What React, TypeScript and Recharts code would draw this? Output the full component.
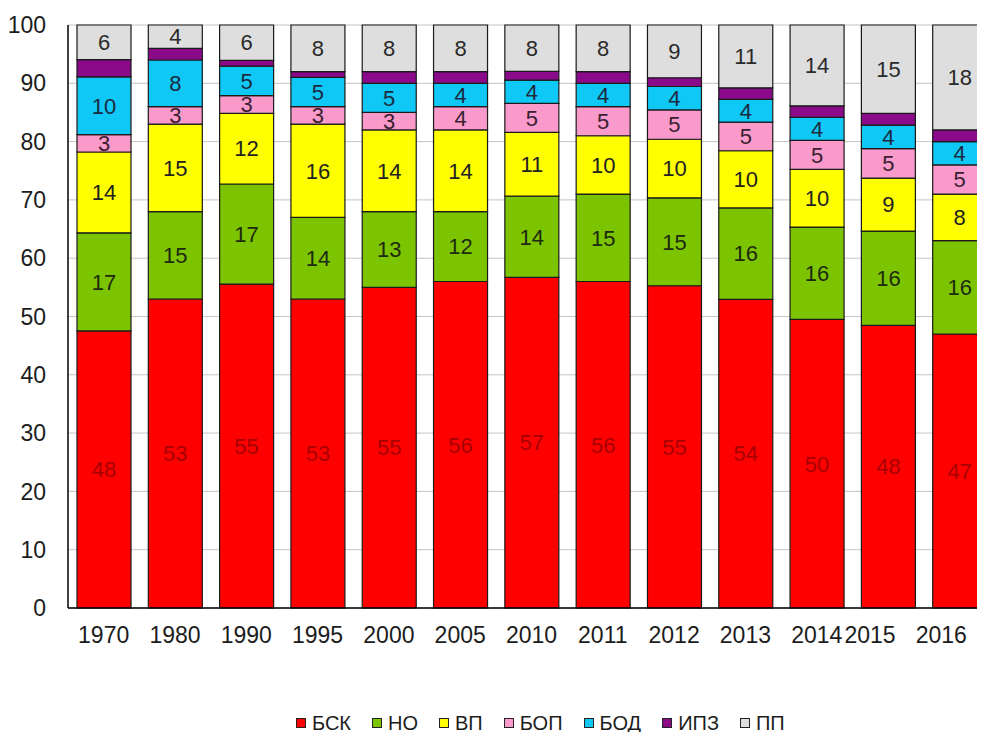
import { BarChart, Bar, XAxis, YAxis, CartesianGrid, LabelList } from 'recharts'

const years = ['1970', '1980', '1990', '1995', '2000', '2005', '2010', '2011', '2012', '2013', '2014', '2015', '2016']

const bsk = [48, 53, 55, 53, 55, 56, 57, 56, 55, 54, 50, 48, 47]
const no = [17, 15, 17, 14, 13, 12, 14, 15, 15, 16, 16, 16, 16]
const vp = [14, 15, 12, 16, 14, 14, 11, 10, 10, 10, 10, 9, 8]
const bop = [3, 3, 3, 3, 3, 4, 5, 5, 5, 5, 5, 5, 5]
const bod = [10, 8, 5, 5, 5, 4, 4, 4, 4, 4, 4, 4, 4]
const ipz = [3, 2, 1, 1, 2, 2, 1.5, 2, 1.5, 2, 2, 2, 2]
const pp = [6, 4, 6, 8, 8, 8, 8, 8, 9, 11, 14, 15, 18]

const yTicks = [0, 0.1, 0.2, 0.3, 0.4, 0.5, 0.6, 0.7, 0.8, 0.9, 1]

const series = [
  { key: 'bsk', name: 'БСК', color: '#ff0000', labelColor: '#a80000', showLabel: true },
  { key: 'no', name: 'НО', color: '#7cc400', labelColor: '#1e2a10', showLabel: true },
  { key: 'vp', name: 'ВП', color: '#ffff00', labelColor: '#222222', showLabel: true },
  { key: 'bop', name: 'БОП', color: '#f99acb', labelColor: '#3a2030', showLabel: true },
  { key: 'bod', name: 'БОД', color: '#0fc8f5', labelColor: '#1c2a40', showLabel: true },
  { key: 'ipz', name: 'ИПЗ', color: '#8a0a8a', labelColor: '#222222', showLabel: false },
  { key: 'pp', name: 'ПП', color: '#dedede', labelColor: '#2a2a2a', showLabel: true },
]

const data = years.map((year, i) => ({
  year,
  bsk: bsk[i],
  no: no[i],
  vp: vp[i],
  bop: bop[i],
  bod: bod[i],
  ipz: ipz[i],
  pp: pp[i],
}))

const font = 'Arial, "Liberation Sans", sans-serif'

// the last two year labels sit a bit to the left of their bars in the original
const YearTick = (props: any) => {
  const { x, y, payload, index } = props
  const shift = index >= years.length - 2 ? -18 : 0
  return (
    <text x={x + shift} y={y} dy="0.71em" textAnchor="middle" fill="#1c1c1c" fontSize={23} fontFamily={font}>
      {payload.value}
    </text>
  )
}

export default function App() {
  return (
    <div style={{ position: 'relative', margin: -8, width: 985, height: 740, overflow: 'hidden', background: '#fff', fontFamily: font }}>
      <BarChart
        width={1000}
        height={740}
        data={data}
        stackOffset="expand"
        margin={{ top: 25, right: 5, bottom: 82, left: 0 }}
      >
        <CartesianGrid vertical={false} stroke="#c4c4c4" />
        <XAxis
          dataKey="year"
          axisLine={{ stroke: '#000', strokeWidth: 1.5 }}
          tickLine={false}
          tickSize={0}
          tickMargin={19}
          height={50}
          interval={0}
          tick={<YearTick />}
        />
        <YAxis
          domain={[0, 1]}
          ticks={yTicks}
          tickFormatter={(v: number) => String(Math.round(v * 100))}
          width={68}
          axisLine={{ stroke: '#000', strokeWidth: 1.5 }}
          tickLine={false}
          tickSize={0}
          tickMargin={22}
          tick={{ fill: '#1c1c1c', fontSize: 23, fontFamily: font }}
        />
        {series.map((s) => (
          <Bar
            key={s.key}
            dataKey={s.key}
            name={s.name}
            stackId="a"
            fill={s.color}
            stroke="#1a1a1a"
            strokeWidth={1.2}
            barSize={54}
            isAnimationActive={false}
          >
            {s.showLabel && (
              <LabelList
                dataKey={s.key}
                position="center"
                fill={s.labelColor}
                style={{ fontSize: 22, fontFamily: font }}
              />
            )}
          </Bar>
        ))}
      </BarChart>
      <div
        style={{
          position: 'absolute',
          top: 713,
          left: 296,
          display: 'flex',
          alignItems: 'center',
          fontSize: 20,
          color: '#1c1c1c',
          lineHeight: '20px',
        }}
      >
        {series.map((s) => (
          <div key={s.key} style={{ display: 'flex', alignItems: 'center', marginRight: 21 }}>
            <span
              style={{
                display: 'inline-block',
                width: 8,
                height: 8,
                background: s.color,
                border: '1.5px solid #222',
                marginRight: 6,
              }}
            />
            <span>{s.name}</span>
          </div>
        ))}
      </div>
    </div>
  )
}
